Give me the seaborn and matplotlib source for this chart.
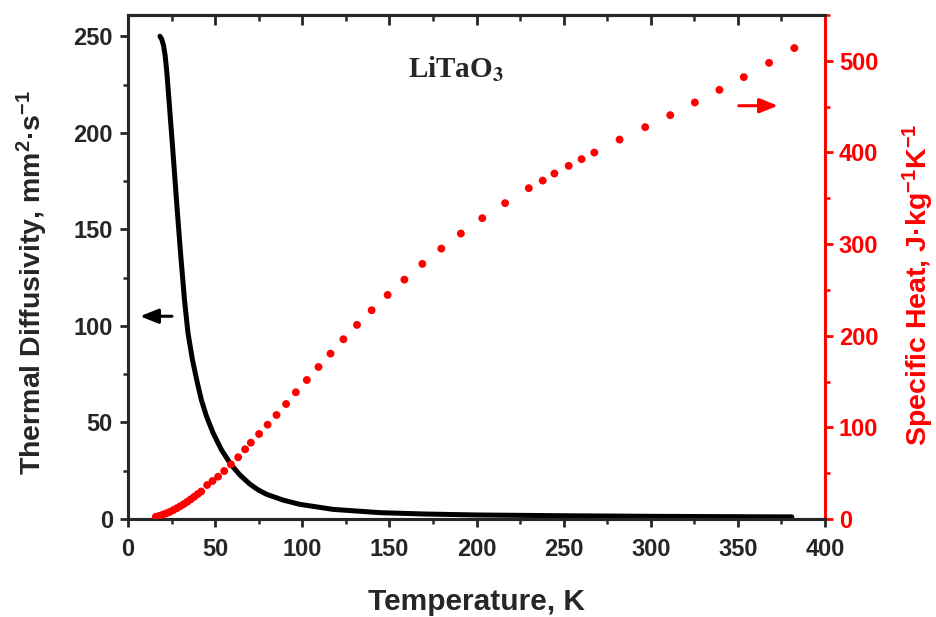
import matplotlib
matplotlib.use("Agg")
import matplotlib.pyplot as plt
import seaborn as sns
import pandas as pd
from matplotlib.ticker import MultipleLocator

# Thermal diffusivity (black line)
temp_d = [18.3, 19.3, 20.3, 21.3, 22.3, 23.5, 25.7, 27.8, 30.0, 32.4, 34.4, 37.0,
          39.8, 42.1, 45.1, 48.9, 53.7, 59.0, 64.2, 69.9, 74.5, 79.5, 89.0, 98.6,
          117.6, 144.4, 170.0, 200.0, 250.0, 300.0, 350.0, 381.0]
diffusivity = [250.0, 248.5, 245.5, 240.0, 231.0, 216.9, 191.0, 165.1, 139.2, 113.4,
               96.3, 82.3, 70.4, 61.6, 53.0, 44.4, 35.7, 28.3, 22.8, 18.1, 15.2,
               12.8, 9.8, 7.6, 5.0, 3.3, 2.6, 2.1, 1.7, 1.4, 1.2, 1.1]

# Specific heat (red dots)
temp_c = [16.0, 18.0, 20.0, 22.0, 24.0, 26.0, 28.0, 30.0, 32.0, 34.0, 36.0, 38.0,
          40.0, 42.0, 45.4, 48.5, 51.7, 55.2, 59.0, 63.2, 67.2, 70.5, 75.2, 80.1,
          85.2, 90.7, 96.3, 102.6, 109.3, 116.2, 123.6, 131.4, 139.8, 149.0, 158.6,
          168.9, 179.8, 191.0, 203.3, 216.4, 230.0, 238.0, 244.7, 252.9, 260.3,
          267.6, 282.1, 296.8, 311.2, 325.3, 339.4, 353.4, 367.9, 382.4]
specific_heat = [2.5, 3.5, 4.8, 6.2, 7.8, 9.8, 11.8, 14.0, 16.3, 18.8, 21.5, 24.3,
                 27.2, 30.0, 37.1, 41.5, 46.2, 52.4, 59.7, 67.4, 76.1, 83.3, 92.8,
                 102.9, 113.5, 125.5, 138.3, 151.7, 165.9, 180.5, 196.2, 211.8, 227.8,
                 244.5, 261.2, 278.4, 295.1, 311.5, 328.3, 344.7, 361.0, 369.3, 377.0,
                 385.4, 392.7, 399.9, 414.1, 427.6, 440.7, 454.5, 468.3, 482.2, 497.8,
                 513.9]

x_ticks = [0, 50, 100, 150, 200, 250, 300, 350, 400]
left_ticks = [0, 50, 100, 150, 200, 250]
right_ticks = [0, 100, 200, 300, 400, 500]

df_d = pd.DataFrame({"T": temp_d, "D": diffusivity})
df_c = pd.DataFrame({"T": temp_c, "Cp": specific_heat})

sns.set_style("ticks")
plt.rcParams["font.family"] = ["Liberation Sans", "DejaVu Sans"]
plt.rcParams["font.weight"] = "bold"
plt.rcParams["mathtext.fontset"] = "custom"
plt.rcParams["mathtext.rm"] = "Liberation Sans:bold"
plt.rcParams["mathtext.bf"] = "Liberation Sans:bold"
plt.rcParams["mathtext.default"] = "rm"

fig = plt.figure(figsize=(9.36, 6.17), dpi=100)
ax = fig.add_axes([0.1368, 0.1588, 0.7446, 0.8169])
ax2 = ax.twinx()

sns.lineplot(data=df_d, x="T", y="D", ax=ax, color="black", linewidth=3.6,
             sort=True, estimator=None)
sns.scatterplot(data=df_c, x="T", y="Cp", ax=ax2, color="#ff0000", s=32,
                edgecolor="none", zorder=3)

ax.set_xlim(0, 400)
ax.set_ylim(0, 261)
ax2.set_ylim(0, 550)

ax.set_xticks(x_ticks)
ax.set_yticks(left_ticks)
ax2.set_yticks(right_ticks)
ax.xaxis.set_minor_locator(MultipleLocator(25))
ax.yaxis.set_minor_locator(MultipleLocator(25))
ax2.yaxis.set_minor_locator(MultipleLocator(50))

for sp in ["left", "bottom", "top"]:
    ax.spines[sp].set_linewidth(2.2)
    ax2.spines[sp].set_linewidth(2.2)
ax2.spines["right"].set_linewidth(2.2)
ax2.spines["right"].set_color("#ff0000")
ax2.spines["top"].set_visible(True)
ax.spines["right"].set_visible(False)

ax.tick_params(axis="x", which="major", direction="out", length=6, width=2,
               labelsize=17, pad=8)
ax.tick_params(axis="y", which="major", direction="out", length=6, width=2,
               labelsize=17, pad=5)
ax.tick_params(axis="both", which="minor", direction="out", length=3.5, width=1.8)
ax2.tick_params(axis="y", which="major", direction="out", length=6, width=2,
                labelsize=17, colors="#ff0000", pad=4)
ax2.tick_params(axis="y", which="minor", direction="out", length=3.5, width=1.8,
                colors="#ff0000")

sec = ax.secondary_xaxis("top")
sec.set_xticks(x_ticks)
sec.xaxis.set_minor_locator(MultipleLocator(25))
sec.tick_params(axis="x", which="major", direction="in", length=7, width=2,
                labeltop=False)
sec.tick_params(axis="x", which="minor", direction="in", length=4.3, width=1.8)
sec.spines["top"].set_linewidth(2.2)

for lab in ax.get_xticklabels() + ax.get_yticklabels() + ax2.get_yticklabels():
    lab.set_fontweight("bold")

ax.set_xlabel("Temperature, K", fontsize=21.5, fontweight="bold", labelpad=19)
ax.set_ylabel(r"Thermal Diffusivity, mm$^{2}$·s$^{-1}$", fontsize=20.5,
              fontweight="bold")
ax2.set_ylabel(r"Specific Heat, J·kg$^{-1}$K$^{-1}$", fontsize=20.5,
               fontweight="bold", color="#ff0000")
ax.yaxis.set_label_coords(-0.112, 0.47)
ax2.yaxis.set_label_coords(1.109, 0.465)

ax.text(188, 233, r"LiTaO$_{\mathbf{3}}$", fontsize=21, fontweight="bold",
        family="Liberation Serif", ha="center", va="center",
        math_fontfamily="stix")

ax.annotate("", xy=(6.9, 105), xytext=(25.2, 105),
            arrowprops=dict(arrowstyle="-|>,head_length=0.55,head_width=0.22",
                            color="black", lw=2.2, mutation_scale=20,
                            shrinkA=0, shrinkB=0))
ax2.annotate("", xy=(373, 451), xytext=(350.5, 451),
             arrowprops=dict(arrowstyle="-|>,head_length=0.55,head_width=0.22",
                             color="#ff0000", lw=2.2, mutation_scale=20,
                             shrinkA=0, shrinkB=0))

fig.savefig("out.png", dpi=100)
